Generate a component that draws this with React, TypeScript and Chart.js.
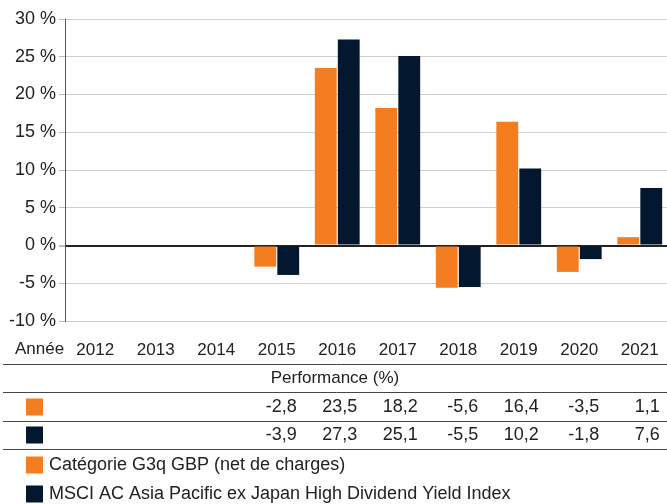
import React, { useEffect, useRef } from "react";
import { Chart, registerables } from "chart.js";

Chart.register(...registerables);

const years = ["2012", "2013", "2014", "2015", "2016", "2017", "2018", "2019", "2020", "2021"];
const fundValues: (number | null)[] = [null, null, null, -2.8, 23.5, 18.2, -5.6, 16.4, -3.5, 1.1];
const indexValues: (number | null)[] = [null, null, null, -3.9, 27.3, 25.1, -5.5, 10.2, -1.8, 7.6];
const fundLabel = "Catégorie G3q GBP (net de charges)";
const indexLabel = "MSCI AC Asia Pacific ex Japan High Dividend Yield Index";
const yearHeader = "Année";
const tableTitle = "Performance (%)";

const ORANGE = "#F47D20";
const NAVY = "#03172E";
const TEXT = "#222222";
const FONT = "'Liberation Sans', Arial, Helvetica, sans-serif";

const fmt = (v: number | null) => (v === null ? "" : v.toFixed(1).replace(".", ","));

const tablePlugin = {
  id: "perfTable",
  afterDraw(chart: any) {
    const ctx = chart.ctx;
    const x = chart.scales.x;
    const W = chart.width;
    ctx.save();
    ctx.fillStyle = TEXT;
    ctx.textBaseline = "middle";
    // header label
    ctx.font = `17px ${FONT}`;
    ctx.textAlign = "left";
    ctx.fillText(yearHeader, 15, 349);
    // lines
    ctx.strokeStyle = "#444";
    ctx.lineWidth = 1;
    [364.5, 392.5, 421.5, 449.5].forEach((y) => {
      ctx.beginPath();
      ctx.moveTo(3, y);
      ctx.lineTo(W, y);
      ctx.stroke();
    });
    // title
    ctx.textAlign = "center";
    ctx.fillText(tableTitle, 335, 378);
    // rows
    ctx.font = `18px ${FONT}`;
    const rows = [
      { color: ORANGE, data: fundValues, y: 407 },
      { color: NAVY, data: indexValues, y: 435 },
    ];
    rows.forEach((r) => {
      ctx.fillStyle = r.color;
      ctx.fillRect(26, r.y - 8.5, 17, 17);
      ctx.fillStyle = TEXT;
      ctx.textAlign = "right";
      r.data.forEach((v, i) => {
        const cx = x.getPixelForValue(i);
        ctx.fillText(fmt(v), cx + 20, r.y);
      });
    });
    // legend
    const legend = [
      { color: ORANGE, text: fundLabel, y: 465 },
      { color: NAVY, text: indexLabel, y: 494 },
    ];
    legend.forEach((l) => {
      ctx.fillStyle = l.color;
      ctx.fillRect(26, l.y - 8.5, 17, 17);
      ctx.fillStyle = TEXT;
      ctx.textAlign = "left";
      ctx.fillText(l.text, 49, l.y);
    });
    ctx.restore();
  },
};

export default function App() {
  const ref = useRef<HTMLCanvasElement>(null);
  useEffect(() => {
    if (!ref.current) return;
    const chart = new Chart(ref.current, {
      type: "bar",
      data: {
        labels: years,
        datasets: [
          { label: fundLabel, data: fundValues, backgroundColor: ORANGE, barPercentage: 0.95, categoryPercentage: 0.76 },
          { label: indexLabel, data: indexValues, backgroundColor: NAVY, barPercentage: 0.95, categoryPercentage: 0.76 },
        ],
      },
      options: {
        responsive: false,
        animation: false,
        devicePixelRatio: 1,
        layout: { padding: { top: 19, left: 0, right: 0, bottom: 143 } },
        plugins: { legend: { display: false }, tooltip: { enabled: false } },
        scales: {
          x: {
            grid: { display: false },
            border: { display: false },
            ticks: { color: TEXT, font: { family: FONT, size: 17 }, padding: 11, maxRotation: 0 },
            afterFit: (s: any) => {
              s.height = 40;
            },
          },
          y: {
            min: -10,
            max: 30,
            ticks: {
              stepSize: 5,
              color: TEXT,
              font: { family: FONT, size: 18 },
              padding: 3,
              callback: (v: any) => `${v} %`,
            },
            grid: {
              color: (c: any) => (c.tick && c.tick.value === 0 ? "#222" : "#cfcfd3"),
              lineWidth: (c: any) => (c.tick && c.tick.value === 0 ? 2 : 1),
              tickLength: 6,
              tickColor: "#bbb",
            },
            border: { display: true, color: "#555", width: 1 },
            afterFit: (s: any) => {
              s.width = 65;
            },
          },
        },
      },
      plugins: [tablePlugin],
    });
    return () => chart.destroy();
  }, []);
  return (
    <div style={{ position: "absolute", left: 0, top: 0, width: 667, height: 504, overflow: "hidden", background: "#fff" }}>
      <canvas ref={ref} width={670} height={504} style={{ display: "block" }} />
    </div>
  );
}
